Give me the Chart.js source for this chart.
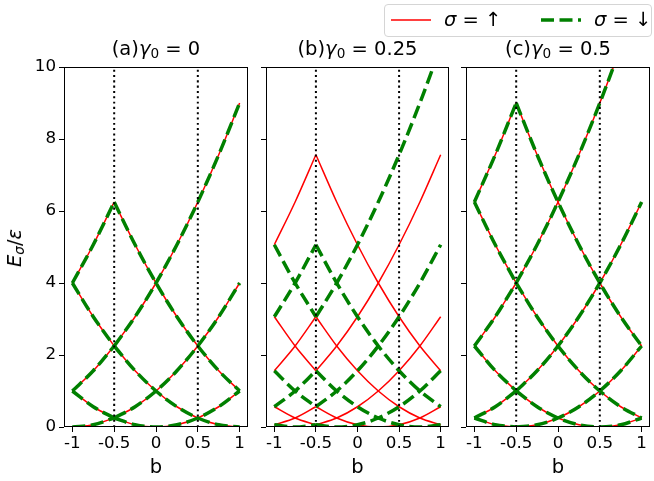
<!DOCTYPE html>
<html>
<head>
<meta charset="utf-8">
<script src="https://cdn.jsdelivr.net/npm/chart.js@4.4.1/dist/chart.umd.min.js"></script>
<style>
body { margin: 0; background: #fff; font-family: "DejaVu Sans", sans-serif; }
#fig { position: relative; width: 654px; height: 481px; overflow: hidden; background: #fff; }
#fig canvas { position: absolute; left: 0; top: 0; }
.ptitle { position: absolute; top: 37px; font-size: 19.5px; line-height: 24px; transform: translateX(-50%); white-space: nowrap; z-index: 5; }
.ptitle sub, #ylab sub { font-size: 70%; vertical-align: -0.25em; line-height: 0; }
#ylab { position: absolute; left: 15px; top: 248px; font-size: 19.5px; line-height: 24px; white-space: nowrap; transform: translate(-50%, -50%) rotate(-90deg); z-index: 5; }
#legend { position: absolute; left: 384px; top: 4px; width: 266px; height: 31px; border: 1px solid #d5d5d5; border-radius: 4px; background: rgba(255,255,255,0.8); z-index: 6; }
#legend svg { position: absolute; left: 0; top: 0; }
#legend span { position: absolute; top: 3px; font-size: 19.5px; line-height: 24px; white-space: nowrap; }
</style>
</head>
<body>
<div id="fig">
  <canvas id="c0" width="654" height="481"></canvas>
  <canvas id="c1" width="654" height="481"></canvas>
  <canvas id="c2" width="654" height="481"></canvas>
  <div class="ptitle" style="left:156px">(a)<i>γ</i><sub>0</sub> = 0</div>
  <div class="ptitle" style="left:357.5px">(b)<i>γ</i><sub>0</sub> = 0.25</div>
  <div class="ptitle" style="left:558px">(c)<i>γ</i><sub>0</sub> = 0.5</div>
  <div id="ylab"><i>E</i><sub><i>σ</i></sub>/<i>ε</i></div>
  <div id="legend">
    <svg width="266" height="31">
      <line x1="6" y1="15" x2="46" y2="15" stroke="#ff0000" stroke-width="1.5"/>
      <line x1="156" y1="15" x2="196" y2="15" stroke="#008000" stroke-width="3.5" stroke-dasharray="13 5.5"/>
    </svg>
    <span style="left:59px"><i>σ</i> = ↑</span>
    <span style="left:209px"><i>σ</i> = ↓</span>
  </div>
</div>
<script>
'use strict'
Chart.defaults.font.family = "'DejaVu Sans', sans-serif"
Chart.defaults.color = '#000'

const bGrid = [-1, -0.75, -0.5, -0.25, 0, 0.25, 0.5, 0.75, 1]
const bTicks = [-1, -0.5, 0, 0.5, 1]
const bTickText = ['-1', '-0.5', '0', '0.5', '1']
const eTicks = [0, 2, 4, 6, 8, 10]
const guideLines = [-0.5, 0.5]

// each row: E at bGrid, first 3 points left of b=-0.5, the rest right of it
// (a) gamma0 = 0
const upA = [
  [4, 5.0625, 6.25, 5.0625, 4, 3.0625, 2.25, 1.5625, 1],
  [1, 1.5625, 2.25, 1.5625, 1, 0.5625, 0.25, 0.0625, 0],
  [0, 0.0625, 0.25, 0.0625, 0, 0.0625, 0.25, 0.5625, 1],
  [1, 0.5625, 0.25, 0.5625, 1, 1.5625, 2.25, 3.0625, 4],
  [4, 3.0625, 2.25, 3.0625, 4, 5.0625, 6.25, 7.5625, 9]
]
const downA = [
  [4, 5.0625, 6.25, 5.0625, 4, 3.0625, 2.25, 1.5625, 1],
  [1, 1.5625, 2.25, 1.5625, 1, 0.5625, 0.25, 0.0625, 0],
  [0, 0.0625, 0.25, 0.0625, 0, 0.0625, 0.25, 0.5625, 1],
  [1, 0.5625, 0.25, 0.5625, 1, 1.5625, 2.25, 3.0625, 4],
  [4, 3.0625, 2.25, 3.0625, 4, 5.0625, 6.25, 7.5625, 9]
]
// (b) gamma0 = 0.25
const upB = [
  [5.0625, 6.25, 7.5625, 6.25, 5.0625, 4, 3.0625, 2.25, 1.5625],
  [1.5625, 2.25, 3.0625, 2.25, 1.5625, 1, 0.5625, 0.25, 0.0625],
  [0.0625, 0.25, 0.5625, 0.25, 0.0625, 0, 0.0625, 0.25, 0.5625],
  [0.5625, 0.25, 0.0625, 0.25, 0.5625, 1, 1.5625, 2.25, 3.0625],
  [3.0625, 2.25, 1.5625, 2.25, 3.0625, 4, 5.0625, 6.25, 7.5625]
]
const downB = [
  [3.0625, 4, 5.0625, 4, 3.0625, 2.25, 1.5625, 1, 0.5625],
  [0.5625, 1, 1.5625, 1, 0.5625, 0.25, 0.0625, 0, 0.0625],
  [0.0625, 0, 0.0625, 0, 0.0625, 0.25, 0.5625, 1, 1.5625],
  [1.5625, 1, 0.5625, 1, 1.5625, 2.25, 3.0625, 4, 5.0625],
  [5.0625, 4, 3.0625, 4, 5.0625, 6.25, 7.5625, 9, 10.5625]
]
// (c) gamma0 = 0.5
const upC = [
  [6.25, 7.5625, 9, 7.5625, 6.25, 5.0625, 4, 3.0625, 2.25],
  [2.25, 3.0625, 4, 3.0625, 2.25, 1.5625, 1, 0.5625, 0.25],
  [0.25, 0.5625, 1, 0.5625, 0.25, 0.0625, 0, 0.0625, 0.25],
  [0.25, 0.0625, 0, 0.0625, 0.25, 0.5625, 1, 1.5625, 2.25],
  [2.25, 1.5625, 1, 1.5625, 2.25, 3.0625, 4, 5.0625, 6.25],
  [6.25, 5.0625, 4, 5.0625, 6.25, 7.5625, 9, 10.5625, 12.25]
]
const downC = [
  [6.25, 7.5625, 9, 7.5625, 6.25, 5.0625, 4, 3.0625, 2.25],
  [2.25, 3.0625, 4, 3.0625, 2.25, 1.5625, 1, 0.5625, 0.25],
  [0.25, 0.5625, 1, 0.5625, 0.25, 0.0625, 0, 0.0625, 0.25],
  [0.25, 0.0625, 0, 0.0625, 0.25, 0.5625, 1, 1.5625, 2.25],
  [2.25, 1.5625, 1, 1.5625, 2.25, 3.0625, 4, 5.0625, 6.25],
  [6.25, 5.0625, 4, 5.0625, 6.25, 7.5625, 9, 10.5625, 12.25]
]

const panelLeft = [64, 266, 466]
const panelRight = [248, 449, 650]
const panelTop = 67
const xAxisHeight = 54

const redStyle = { borderColor: '#ff0000', borderWidth: 1.5, order: 2 }
const greenStyle = { borderColor: '#008000', borderWidth: 3.5, borderDash: [13, 5.5], order: 1 }

function pts(vals, from, to) {
  const out = []
  for (let i = from; i <= to; i++) out.push({ x: bGrid[i], y: vals[i] })
  return out
}

function curveSets(rows, style) {
  const sets = []
  rows.forEach(r => {
    // split at b=-0.5 so the cusps stay sharp
    sets.push(Object.assign({ data: pts(r, 0, 2) }, style))
    sets.push(Object.assign({ data: pts(r, 2, 8) }, style))
  })
  return sets
}

const frame = {
  id: 'frame',
  afterDatasetsDraw(chart) {
    const a = chart.chartArea
    const ctx = chart.ctx
    ctx.save()
    ctx.strokeStyle = '#000'
    ctx.lineWidth = 1
    ctx.strokeRect(Math.round(a.left) + 0.5, Math.round(a.top) + 0.5, Math.round(a.right - a.left) - 1, Math.round(a.bottom - a.top) - 1)
    ctx.restore()
  }
}

function makePanel(id, k, up, down) {
  const yw = k === 0 ? 64 : 10
  const datasets = curveSets(up, redStyle).concat(curveSets(down, greenStyle))
  guideLines.forEach(b => {
    datasets.push({ data: [{ x: b, y: 0 }, { x: b, y: 10 }], borderColor: '#000', borderWidth: 2, borderDash: [2, 3.3], order: 0 })
  })
  datasets.forEach(d => {
    d.pointRadius = 0
    d.fill = false
    d.clip = 0
    d.cubicInterpolationMode = 'monotone'
  })
  return new Chart(document.getElementById(id), {
    type: 'line',
    data: { datasets: datasets },
    options: {
      responsive: false,
      animation: false,
      devicePixelRatio: 1,
      layout: { padding: { left: panelLeft[k] - yw, right: 654 - panelRight[k], top: panelTop, bottom: 0 } },
      plugins: { legend: { display: false }, tooltip: { enabled: false } },
      scales: {
        x: {
          type: 'linear', min: -1.1, max: 1.1,
          afterBuildTicks: s => { s.ticks = bTicks.map(v => ({ value: v })) },
          afterFit: s => { s.height = xAxisHeight },
          ticks: { autoSkip: false, maxRotation: 0, padding: 2, font: { size: 16.7 }, color: '#000',
            callback: v => bTickText[bTicks.indexOf(v)] },
          grid: { drawOnChartArea: false, drawTicks: true, tickLength: 5, color: '#000' },
          border: { display: false },
          title: { display: true, text: 'b', font: { size: 19.5 }, color: '#000', padding: { top: 0, bottom: 1 } }
        },
        y: {
          type: 'linear', min: 0, max: 10,
          afterBuildTicks: s => { s.ticks = eTicks.map(v => ({ value: v })) },
          afterFit: s => { s.width = yw },
          ticks: { display: k === 0, padding: 3, font: { size: 16.7 }, color: '#000' },
          grid: { drawOnChartArea: false, drawTicks: true, tickLength: 5, color: '#000' },
          border: { display: false }
        }
      }
    },
    plugins: [frame]
  })
}

makePanel('c0', 0, upA, downA)
makePanel('c1', 1, upB, downB)
makePanel('c2', 2, upC, downC)
</script>
</body>
</html>
